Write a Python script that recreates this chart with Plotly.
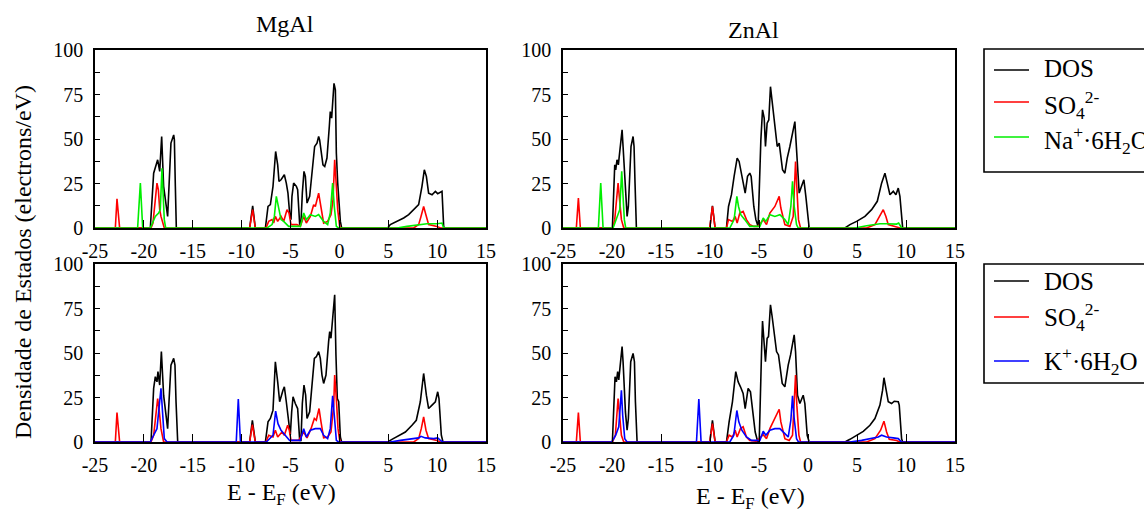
import plotly.graph_objects as go

W, H = 1144, 510
FONT = "Liberation Serif, Times New Roman, serif"

# ---------------- data (E - E_F in eV, DOS in states/eV) ----------------
# MgAl with Na+.6H2O (top left)
mgal_na_dos_x = [-25, -19.34, -19.0, -18.76, -18.59, -18.38, -18.18, -17.98, -17.57, -17.43, -17.23, -16.95, -16.88, -16.78, -16.68,
                 -9.18, -8.87, -8.60,
                 -7.57, -7.30, -7.06, -6.79, -6.52, -6.31, -6.18, -5.97, -5.63, -5.43, -5.26, -5.09, -4.95, -4.85, -4.68, -4.40, -4.27, -4.06,
                 -3.93, -3.79, -3.62, -3.48, -3.31, -3.04, -2.80, -2.53, -2.29, -2.12, -2.02, -1.85, -1.68, -1.50, -1.27, -1.03, -0.93, -0.79,
                 -0.55, -0.41, -0.31, -0.17, -0.04, 0.10, 0.23,
                 4.94, 5.21, 5.90, 6.58, 7.09, 7.60, 8.11, 8.45, 8.69, 8.90, 9.13, 9.48, 9.82, 10.06, 10.40, 10.50, 10.67, 10.74, 15]
mgal_na_dos_y = [0, 0, 30.8, 35.5, 38.3, 31.8, 51.4, 23.4, 6.5, 23.4, 47.7, 52.3, 49.5, 23.4, 0,
                 0, 12.5, 0,
                 0, 12.1, 13.1, 23.4, 43.0, 35.5, 26.2, 27.1, 29.9, 25.2, 19.6, 8.4, 4.7, 17.8, 25.2, 23.4, 21.5, 1.9,
                 2.8, 19.6, 31.8, 29.0, 14.0, 17.8, 30.8, 45.8, 47.7, 51.4, 49.5, 42.1, 35.5, 34.6, 39.3, 57.0, 65.4, 61.7,
                 81.3, 77.6, 42.1, 25.2, 12.1, 3.7, 0,
                 0, 1.9, 3.7, 5.6, 7.5, 10.3, 13.1, 23.4, 32.7, 29.0, 19.6, 18.7, 20.6, 19.3, 20.6, 20.6, 0.9, 0, 0]
mgal_na_so4_x = [-25, -22.92, -22.75, -22.48,
                 -19.27, -19.07, -18.66, -18.52, -18.38, -18.25, -17.91,
                 -9.18, -8.87, -8.60,
                 -7.51, -7.23, -6.89, -6.72, -6.55, -6.31, -5.97, -5.70, -5.36, -5.15, -4.95, -4.34, -3.99, -3.65, -3.38, -2.97,
                 -2.63, -2.46, -2.12, -1.95, -1.61, -1.20, -0.86, -0.65, -0.48, -0.35, -0.17, 0.03, 0.17,
                 7.60, 8.11, 8.35, 8.62, 8.90, 9.13, 9.99, 10.33, 15]
mgal_na_so4_y = [0, 0, 16.4, 0,
                 0, 2.8, 25.2, 21.5, 10.3, 6.5, 0,
                 0, 10.3, 0,
                 0, 3.7, 4.7, 2.8, 6.5, 3.7, 6.5, 3.7, 10.3, 8.4, 1.9, 1.9, 0.9, 6.5, 2.8, 6.5,
                 13.1, 12.1, 19.6, 14.0, 2.8, 3.7, 7.5, 15.9, 38.3, 27.1, 10.3, 0.9, 0,
                 0, 1.9, 6.5, 12.1, 6.5, 1.9, 0.9, 0, 0]
mgal_na_ion_x = [-25, -20.64, -20.36, -20.12,
                 -19.34, -18.83, -18.49, -18.32, -18.15, -18.04, -17.91, -17.77,
                 -7.40, -6.89, -6.65, -6.45, -6.24, -5.97, -5.70, -5.19, -3.99, -3.65, -3.38, -2.97, -2.46, -2.12, -1.61, -1.20,
                 -0.93, -0.69, -0.52, -0.31, -0.07,
                 5.90, 6.92, 8.28, 8.96, 9.99, 10.50, 10.67, 15]
mgal_na_ion_y = [0, 0, 25.2, 0,
                 0, 6.5, 8.4, 10.3, 33.6, 17.8, 4.7, 0,
                 0, 1.9, 6.5, 17.8, 12.1, 4.7, 3.7, 0.9, 0.9, 8.4, 4.7, 7.5, 6.5, 7.5, 3.7, 1.9,
                 8.4, 25.2, 12.1, 0.9, 0,
                 0, 0.9, 1.7, 2.4, 2.4, 2.8, 0, 0]

# ZnAl with Na+.6H2O (top right)
znal_na_dos_x = [-25, -19.96, -19.72, -19.62, -19.49, -19.35, -19.28, -18.97, -18.87, -18.60, -18.46, -18.33, -18.06, -17.85, -17.75, -17.65, -17.51,
                 -10.02, -9.75, -9.48,
                 -8.32, -8.11, -7.81, -7.54, -7.23, -7.03, -6.86, -6.62, -6.41, -6.17, -5.94, -5.80, -5.53, -5.32, -5.09, -4.81, -4.64,
                 -4.47, -4.34, -4.17, -4.00, -3.83, -3.69, -3.49, -3.28, -3.14, -2.94, -2.80, -2.60, -2.36, -2.12, -1.85, -1.58, -1.34,
                 -1.24, -1.03, -0.90, -0.66, -0.42, -0.22, -0.01, 0.12,
                 3.77, 4.28, 4.96, 5.81, 6.49, 7.07, 7.51, 7.85, 8.09, 8.36, 8.70, 8.97, 9.21, 9.38, 9.66, 15]
znal_na_dos_y = [0, 0, 35.5, 32.7, 38.3, 35.5, 39.3, 55.1, 45.8, 17.8, 6.5, 12.1, 45.8, 51.4, 45.8, 25.2, 0,
                 0, 12.5, 0,
                 0, 12.1, 18.7, 29.0, 39.3, 37.4, 32.7, 27.1, 19.6, 29.0, 30.8, 29.0, 12.1, 4.7, 0.9, 49.5, 66.4,
                 61.7, 45.8, 58.9, 60.7, 79.4, 72.0, 62.6, 49.5, 45.8, 47.7, 41.1, 32.7, 30.8, 39.3, 45.8, 53.3, 59.8,
                 50.5, 30.8, 19.6, 23.4, 27.1, 17.8, 4.7, 0,
                 0, 1.9, 3.7, 6.5, 10.3, 15.0, 25.2, 30.8, 25.2, 18.7, 20.6, 18.7, 22.4, 17.8, 0, 0]
znal_na_so4_x = [-25, -23.64, -23.43, -23.23,
                 -19.96, -19.72, -19.38, -19.21, -19.04, -18.80,
                 -10.02, -9.75, -9.48,
                 -8.32, -8.11, -7.71, -7.43, -7.23, -6.96, -6.62, -6.28, -5.94, -5.53, -5.09, -4.57, -4.23, -3.89, -3.38, -2.94,
                 -2.77, -2.36, -1.85, -1.51, -1.27, -1.14, -0.97, -0.76,
                 5.98, 6.83, 7.34, 7.68, 7.95, 8.19, 9.04, 9.38, 15]
znal_na_so4_y = [0, 0, 16.8, 0,
                 0, 4.7, 25.2, 12.1, 4.7, 0,
                 0, 12.1, 0,
                 0, 4.7, 3.7, 6.5, 2.8, 8.4, 9.3, 4.7, 1.9, 0.9, 0.9, 4.7, 1.9, 8.4, 12.1, 17.8,
                 11.2, 1.9, 0.9, 6.5, 37.4, 21.5, 4.7, 0,
                 0, 1.9, 6.5, 10.3, 6.5, 1.9, 0.6, 0, 0]
znal_na_ion_x = [-25, -21.39, -21.15, -20.91,
                 -19.89, -19.55, -19.21, -19.01, -18.87, -18.74, -18.60,
                 -7.98, -7.54, -7.26, -7.09, -6.86, -6.45, -5.94, -4.91, -4.57, -4.30, -3.89, -3.38, -2.87, -2.36, -2.02,
                 -1.75, -1.58, -1.41, -1.17, -1.00,
                 4.79, 5.98, 7.34, 8.02, 9.04, 9.25, 9.55, 15]
znal_na_ion_y = [0, 0, 25.2, 0,
                 0, 4.7, 10.3, 31.8, 17.8, 4.7, 0,
                 0, 4.7, 17.8, 12.1, 7.5, 4.7, 0.9, 0.9, 5.6, 3.7, 7.5, 6.5, 7.5, 4.7, 1.9,
                 12.1, 26.2, 12.1, 1.9, 0,
                 0, 1.3, 2.4, 2.4, 2.2, 2.8, 0, 0]

# MgAl with K+.6H2O (bottom left)
mgal_k_dos_x = [-25, -19.27, -19.0, -18.83, -18.66, -18.56, -18.38, -18.21, -17.98, -17.57, -17.43, -17.23, -16.95, -16.82, -16.71, -16.54,
                -9.18, -8.90, -8.60,
                -7.57, -7.30, -7.06, -6.79, -6.55, -6.31, -6.11, -5.77, -5.63, -5.43, -5.19, -5.02, -4.88, -4.74, -4.51, -4.27, -4.06,
                -3.93, -3.79, -3.62, -3.45, -3.31, -3.04, -2.80, -2.56, -2.36, -2.12, -1.95, -1.78, -1.61, -1.37, -1.10, -0.99, -0.86,
                -0.55, -0.48, -0.35, -0.21, -0.07, 0.10, 0.23,
                4.94, 5.38, 6.07, 6.75, 7.43, 7.87, 8.28, 8.62, 8.90, 9.13, 9.48, 9.82, 10.06, 10.19, 10.43, 10.60, 15]
mgal_k_dos_y = [0, 0, 30.1, 36.7, 33.8, 39.5, 32.0, 50.8, 26.3, 7.5, 22.6, 43.2, 47.0, 43.2, 22.6, 0,
                0, 12.2, 0,
                0, 11.3, 13.2, 17.9, 45.1, 33.8, 22.6, 29.1, 31.0, 22.6, 13.2, 3.8, 16.9, 25.4, 21.6, 18.8, 0.9,
                0.9, 21.6, 32.0, 26.3, 13.2, 16.9, 30.1, 47.0, 47.9, 50.8, 47.0, 37.6, 32.9, 37.6, 56.4, 62.0, 58.3,
                77.1, 82.7, 48.9, 24.4, 22.6, 2.8, 0,
                0, 1.5, 3.8, 5.6, 9.4, 12.2, 22.6, 38.5, 26.3, 18.8, 20.7, 22.6, 28.2, 24.4, 3.8, 0, 0]
mgal_k_so4_x = [-25, -22.92, -22.75, -22.48,
                -19.27, -19.0, -18.59, -18.45, -18.25, -17.98,
                -9.18, -8.90, -8.60,
                -7.51, -7.23, -6.79, -6.55, -6.31, -5.87, -5.63, -5.29, -5.12, -4.95, -4.16, -3.65, -3.31, -2.90, -2.56, -2.36,
                -2.08, -1.88, -1.61, -1.20, -0.86, -0.58, -0.48, -0.31, -0.14, 0.03, 0.17,
                7.60, 8.11, 8.38, 8.62, 8.86, 9.13, 9.99, 10.33, 15]
mgal_k_so4_y = [0, 0, 16.5, 0,
                0, 3.8, 24.4, 18.8, 7.5, 0,
                0, 9.8, 0,
                0, 3.8, 2.8, 6.6, 2.8, 5.6, 3.8, 9.4, 6.6, 0.9, 0.9, 5.6, 2.3, 7.5, 13.2, 12.2,
                18.8, 11.3, 2.3, 2.8, 5.6, 20.7, 37.6, 24.4, 7.5, 0.9, 0,
                0, 1.9, 7.5, 14.1, 6.6, 1.9, 0.9, 0, 0]
mgal_k_ion_x = [-25, -19.34, -19.0, -18.66, -18.25, -18.11, -17.91, -17.63,
                -10.55, -10.34, -10.12,
                -7.47, -6.79, -6.52, -6.28, -5.97, -5.53, -5.09, -3.99, -3.65, -3.38, -2.97, -2.46, -1.95, -1.61, -1.20,
                -0.93, -0.69, -0.52, -0.31, -0.07,
                5.21, 6.24, 7.26, 8.11, 8.35, 8.79, 9.65, 10.06, 10.33, 10.60, 15]
mgal_k_ion_y = [0, 0, 3.8, 7.5, 30.1, 17.0, 1.9, 0,
                0, 24.1, 0,
                0, 3.8, 17.3, 10.3, 6.6, 3.8, 0.9, 0.9, 7.5, 2.8, 6.6, 7.5, 7.5, 3.8, 1.9,
                7.5, 25.9, 15.0, 0.9, 0,
                0, 0.9, 1.5, 2.3, 3.2, 2.3, 1.9, 2.3, 0.9, 0, 0]

# ZnAl with K+.6H2O (bottom right)
znal_k_dos_x = [-25, -19.96, -19.69, -19.55, -19.42, -19.31, -18.97, -18.87, -18.63, -18.46, -18.33, -18.09, -17.85, -17.71, -17.61, -17.44,
                -10.02, -9.75, -9.48,
                -8.32, -8.05, -7.71, -7.37, -7.13, -6.89, -6.62, -6.41, -6.11, -5.87, -5.60, -5.39, -5.12, -4.98, -4.74, -4.64,
                -4.34, -4.17, -4.03, -3.83, -3.66, -3.45, -3.21, -3.01, -2.84, -2.63, -2.36, -2.02, -1.78, -1.41, -1.27, -1.07,
                -0.83, -0.49, -0.32, -0.08, 0.12,
                3.77, 4.28, 4.96, 5.64, 6.32, 6.83, 7.34, 7.61, 7.75, 7.95, 8.19, 8.53, 8.80, 9.21, 9.31, 9.55, 9.66, 15]
znal_k_dos_y = [0, 0, 36.7, 33.8, 39.5, 34.9, 53.6, 45.1, 16.9, 6.6, 13.2, 45.1, 49.8, 45.1, 22.6, 0,
                0, 12.2, 0,
                0, 11.3, 22.6, 39.5, 33.8, 31.0, 27.3, 18.8, 30.1, 28.2, 16.9, 5.6, 0, 0, 50.8, 68.0,
                45.1, 58.3, 59.2, 77.1, 70.5, 62.0, 50.8, 48.9, 41.4, 32.9, 31.0, 43.2, 48.9, 60.2, 50.8, 26.3,
                21.6, 26.3, 21.6, 3.8, 0,
                0, 1.5, 3.8, 6.0, 9.4, 13.2, 20.7, 29.1, 36.1, 30.1, 22.6, 21.6, 22.9, 22.6, 20.7, 1.9, 0, 0]
znal_k_so4_x = [-25, -23.64, -23.43, -23.23,
                -19.96, -19.66, -19.38, -19.25, -19.04, -18.80,
                -10.02, -9.75, -9.48,
                -8.32, -8.05, -7.71, -7.43, -7.23, -6.89, -6.62, -6.28, -5.94, -5.26, -4.57, -4.23, -3.89, -3.49, -2.94,
                -2.77, -2.36, -1.92, -1.58, -1.27, -1.14, -0.93, -0.76,
                5.98, 6.83, 7.41, 7.75, 8.02, 8.29, 9.04, 9.38, 15]
znal_k_so4_y = [0, 0, 16.5, 0,
                0, 3.8, 24.4, 15.0, 3.8, 0,
                0, 10.3, 0,
                0, 3.8, 2.8, 6.6, 2.8, 7.5, 8.5, 2.8, 0.9, 0.4, 4.1, 1.9, 7.5, 12.2, 18.4,
                11.3, 1.9, 0.9, 3.8, 37.6, 20.7, 3.8, 0,
                0, 1.9, 6.6, 11.7, 5.6, 1.5, 0.8, 0, 0]
znal_k_ion_x = [-25, -20.02, -19.62, -19.31, -19.04, -18.91, -18.70, -18.46,
                -11.38, -11.14, -10.91,
                -7.98, -7.57, -7.26, -7.06, -6.75, -6.28, -5.77, -4.91, -4.57, -4.30, -3.89, -3.38, -2.87, -2.36, -2.02,
                -1.75, -1.58, -1.41, -1.17, -0.97,
                4.28, 5.47, 6.32, 7.17, 7.51, 8.02, 8.70, 9.21, 9.55, 15]
znal_k_ion_y = [0, 0, 3.8, 8.5, 29.1, 15.0, 1.9, 0,
                0, 24.1, 0,
                0, 3.8, 17.7, 11.3, 6.6, 2.8, 0.9, 0.9, 6.0, 3.8, 6.6, 7.5, 7.5, 4.7, 2.8,
                12.2, 25.9, 13.2, 1.9, 0,
                0, 0.9, 1.9, 2.8, 3.8, 2.8, 2.3, 1.9, 0, 0]

x_ticks = [-25, -20, -15, -10, -5, 0, 5, 10, 15]
x_tick_labels = ["-25", "-20", "-15", "-10", "-5", "0", "5", "10", "15"]
y_ticks = [0, 25, 50, 75, 100]
y_tick_labels = ["0", "25", "50", "75", "100"]
panel_titles = ["MgAl", "ZnAl"]
x_title = "E - E<sub>F</sub> (eV)"
y_title = "Densidade de Estados (electrons/eV)"
legend_top = ["DOS", "SO<sub>4</sub><sup>2-</sup>", "Na<sup>+</sup>·6H<sub>2</sub>O"]
legend_bottom = ["DOS", "SO<sub>4</sub><sup>2-</sup>", "K<sup>+</sup>·6H<sub>2</sub>O"]

BLACK, RED, GREEN, BLUE = "#000000", "#ff0000", "#00ee00", "#0000ff"


def px(x):
    return x / W


def py(y):
    return 1 - y / H


fig = go.Figure()

panels = [
    ("x", "y", [(mgal_na_dos_x, mgal_na_dos_y, BLACK), (mgal_na_so4_x, mgal_na_so4_y, RED), (mgal_na_ion_x, mgal_na_ion_y, GREEN)]),
    ("x2", "y2", [(znal_na_dos_x, znal_na_dos_y, BLACK), (znal_na_so4_x, znal_na_so4_y, RED), (znal_na_ion_x, znal_na_ion_y, GREEN)]),
    ("x3", "y3", [(mgal_k_dos_x, mgal_k_dos_y, BLACK), (mgal_k_so4_x, mgal_k_so4_y, RED), (mgal_k_ion_x, mgal_k_ion_y, BLUE)]),
    ("x4", "y4", [(znal_k_dos_x, znal_k_dos_y, BLACK), (znal_k_so4_x, znal_k_so4_y, RED), (znal_k_ion_x, znal_k_ion_y, BLUE)]),
]
for xa, ya, series in panels:
    for xs, ys, col in series:
        fig.add_trace(go.Scatter(x=xs, y=ys, mode="lines", xaxis=xa, yaxis=ya,
                                 line=dict(color=col, width=1.6), showlegend=False, hoverinfo="skip"))

# panel pixel boxes (left, right, top, bottom)
boxes = [(95, 486, 50, 228), (563, 955, 50, 228), (95, 486, 264, 442), (563, 955, 264, 442)]
axis_font = dict(family=FONT, size=20, color="black")
layout = {}
for i, (l, r, t, b) in enumerate(boxes):
    sx = "" if i == 0 else str(i + 1)
    layout["xaxis" + sx] = dict(
        domain=[px(l), px(r)], range=[-25, 15], anchor="y" + sx, automargin=False,
        tickmode="array", tickvals=x_ticks, ticktext=x_tick_labels,
        ticks="inside", ticklen=8, tickwidth=1.3, tickcolor="black",
        showline=True, linecolor="black", linewidth=1.6, mirror=True, showgrid=False, zeroline=False,
        tickfont=axis_font, ticklabelstandoff=4,
    )
    layout["yaxis" + sx] = dict(
        domain=[py(b), py(t)], range=[0, 100], anchor="x" + sx, automargin=False,
        tickmode="array", tickvals=y_ticks, ticktext=y_tick_labels,
        ticks="inside", ticklen=5, tickwidth=1.3, tickcolor="black",
        minor=dict(dtick=12.5, ticks="inside", ticklen=5, tickwidth=1.3, tickcolor="black"),
        showline=True, linecolor="black", linewidth=1.6, mirror=True, showgrid=False, zeroline=False,
        tickfont=axis_font, ticklabelstandoff=6,
    )

annotations = []
title_font = dict(family=FONT, size=24, color="black")
annotations.append(dict(text=panel_titles[0], x=px(285), y=py(24), xref="paper", yref="paper",
                        showarrow=False, font=title_font, xanchor="center", yanchor="middle"))
annotations.append(dict(text=panel_titles[1], x=px(753), y=py(30), xref="paper", yref="paper",
                        showarrow=False, font=title_font, xanchor="center", yanchor="middle"))
annotations.append(dict(text=x_title, x=px(281), y=py(494), xref="paper", yref="paper",
                        showarrow=False, font=title_font, xanchor="center", yanchor="middle"))
annotations.append(dict(text=x_title, x=px(750), y=py(498), xref="paper", yref="paper",
                        showarrow=False, font=title_font, xanchor="center", yanchor="middle"))
annotations.append(dict(text=y_title, x=px(23), y=py(262), xref="paper", yref="paper", textangle=-90,
                        showarrow=False, font=title_font, xanchor="center", yanchor="middle"))

shapes = []
legend_font = dict(family=FONT, size=25, color="black")
legend_specs = [
    (49, 172, [70, 102, 137], [69, 105, 140], legend_top, [BLACK, RED, GREEN]),
    (264, 383, [281, 317, 361], [281, 317, 361], legend_bottom, [BLACK, RED, BLUE]),
]
for top, bot, line_ys, text_ys, labels, cols in legend_specs:
    shapes.append(dict(type="rect", xref="paper", yref="paper", x0=px(984), x1=px(1170), y0=py(bot), y1=py(top),
                       line=dict(color="black", width=1.6), fillcolor="rgba(0,0,0,0)"))
    for ly, ty, lab, col in zip(line_ys, text_ys, labels, cols):
        shapes.append(dict(type="line", xref="paper", yref="paper", x0=px(994), x1=px(1029), y0=py(ly), y1=py(ly),
                           line=dict(color=col, width=1.6)))
        annotations.append(dict(text=lab, x=px(1042), y=py(ty), xref="paper", yref="paper",
                                showarrow=False, font=legend_font, xanchor="left", yanchor="middle"))

fig.update_layout(
    width=W, height=H, margin=dict(l=0, r=0, t=0, b=0),
    paper_bgcolor="white", plot_bgcolor="white",
    annotations=annotations, shapes=shapes, showlegend=False,
    **layout,
)

fig.write_html("out.html", config={"displayModeBar": False},
               post_script="document.body.style.margin='0';document.body.style.overflow='hidden';")
